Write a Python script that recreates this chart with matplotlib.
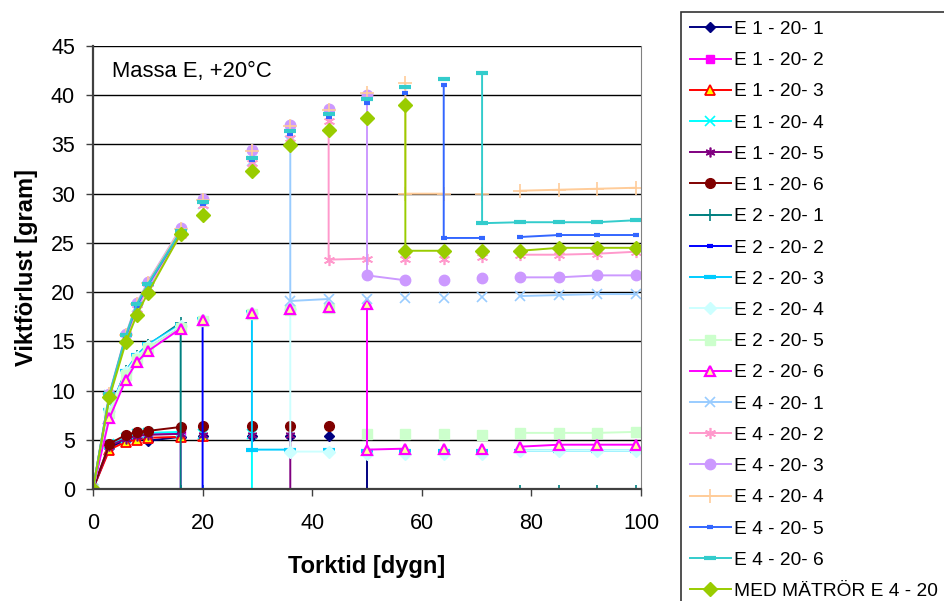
import numpy as np
import matplotlib
matplotlib.use("Agg")
import matplotlib.pyplot as plt

plt.rcParams['font.family'] = ['Liberation Sans', 'DejaVu Sans']

N = np.nan
LOW = -5  # sample removed, value far below the axis

# rows of the table; repeated days are the re-weighing rows
days = [0, 3, 6, 8, 10, 16, 16, 20, 20, 29, 29, 36, 36, 43, 43,
        50, 50, 57, 57, 64, 64, 71, 71, 78, 85, 92, 99]

e1_1 = [0, 4.2, 5.0, 5.2, 4.9, 5.3, N, 5.4, N, 5.4, N, 5.4, N, 5.4, N,
        5.6, LOW, N, N, N, N, N, N, N, N, N, N]
e1_2 = [0, 4.5, 5.3, 5.5, 5.6, 5.7, LOW, N, N, N, N, N, N, N, N,
        N, N, N, N, N, N, N, N, N, N, N, N]
e1_3 = [0, 4.0, 4.8, 5.0, 5.2, 5.3, N, 5.4, N, N, N, N, N, N, N,
        N, N, N, N, N, N, N, N, N, N, N, N]
e1_4 = [0, 4.6, 5.2, 5.6, 5.7, 5.8, N, 5.6, N, 5.6, LOW, N, N, N, N,
        N, N, N, N, N, N, N, N, N, N, N, N]
e1_5 = [0, 4.4, 5.1, 5.4, 5.5, 5.6, N, 5.5, N, 5.5, N, 5.5, LOW, N, N,
        N, N, N, N, N, N, N, N, N, N, N, N]
e1_6 = [0, 4.6, 5.5, 5.8, 5.9, 6.3, N, 6.4, N, 6.4, N, 6.4, N, 6.4, N,
        N, N, N, N, N, N, N, N, N, N, N, N]

e2_1 = [0, 8.0, 12.0, 13.5, 14.6, 16.9, -0.2, -0.2, N, N, N, N, N, N, N,
        N, N, N, N, N, N, N, N, -0.2, -0.2, -0.2, -0.2]
e2_2 = [0, 7.8, 11.8, 13.3, 14.4, 16.5, N, 16.8, LOW, N, N, N, N, N, N,
        N, N, N, N, N, N, N, N, N, N, N, N]
e2_3 = [0, 8.0, 12.0, 13.6, 14.7, 16.7, N, 17.3, N, 18.0, 4.0, 4.0, N, 4.0, N,
        3.9, N, 3.9, N, 3.9, N, 3.9, N, 3.9, 3.9, 3.9, 3.9]
e2_4 = [0, 7.9, 11.9, 13.4, 14.5, 16.6, N, 17.2, N, 17.9, N, 18.3, 3.8, 3.8, N,
        3.6, N, 3.6, N, 3.6, N, 3.6, N, 3.9, 3.9, 3.9, 3.9]
e2_5 = [0, 7.7, 11.6, 13.2, 14.3, 16.4, N, 17.1, N, 17.8, N, 18.2, N, 18.4, N,
        5.6, N, 5.6, N, 5.6, N, 5.5, N, 5.7, 5.7, 5.7, 5.8]
e2_6 = [0, 7.2, 11.1, 12.9, 14.0, 16.3, N, 17.2, N, 17.9, N, 18.3, N, 18.5, N,
        18.8, 4.0, 4.1, N, 4.1, N, 4.1, N, 4.3, 4.5, 4.5, 4.5]

e4_1 = [0, 9.5, 15.4, 18.5, 20.6, 26.0, N, 28.9, N, 33.3, N, 35.3, 19.1, 19.3, N,
        19.3, N, 19.4, N, 19.4, N, 19.5, N, 19.6, 19.7, 19.8, 19.8]
e4_2 = [0, 9.4, 15.3, 18.3, 20.4, 25.8, N, 28.8, N, 33.1, N, 35.7, N, 37.4, 23.3,
        23.4, N, 23.4, N, 23.4, N, 23.6, N, 23.8, 23.8, 23.9, 24.1]
e4_3 = [0, 9.7, 15.7, 18.9, 21.0, 26.5, N, 29.5, N, 34.4, N, 37.0, N, 38.6, N,
        40.0, 21.7, 21.2, N, 21.2, N, 21.4, N, 21.5, 21.5, 21.7, 21.7]
e4_4 = [0, 9.6, 15.6, 18.8, 20.9, 26.4, N, 29.4, N, 34.3, N, 36.9, N, 38.5, N,
        40.2, N, 41.2, 30.0, 30.0, N, 30.0, N, 30.3, 30.4, 30.5, 30.6]
e4_5 = [0, 9.5, 15.5, 18.6, 20.7, 26.1, N, 29.0, N, 33.4, N, 36.1, N, 37.8, N,
        39.2, N, 40.2, N, 41.0, 25.5, 25.5, N, 25.6, 25.8, 25.8, 25.8]
e4_6 = [0, 9.6, 15.6, 18.8, 20.8, 26.2, N, 29.2, N, 33.6, N, 36.4, N, 38.1, N,
        39.6, N, 40.8, N, 41.6, N, 42.3, 27.0, 27.1, 27.1, 27.1, 27.3]
med = [0, 9.3, 14.9, 17.7, 19.9, 25.9, N, 27.8, N, 32.3, N, 34.9, N, 36.5, N,
       37.7, N, 39.0, 24.2, 24.2, N, 24.2, N, 24.2, 24.5, 24.5, 24.5]

asterisk = (6, 2, 0)
# label, values, line colour, marker, face, edge, size, edge width
series = [
    ("E 1 - 20- 1", e1_1, "#000080", "D", "#000080", "#000080", 5.5, 1),
    ("E 1 - 20- 2", e1_2, "#FF00FF", "s", "#FF00FF", "#FF00FF", 5.5, 1),
    ("E 1 - 20- 3", e1_3, "#FF0000", "^", "#FFFF00", "#FF0000", 7, 1.3),
    ("E 1 - 20- 4", e1_4, "#00FFFF", "x", "#00FFFF", "#00FFFF", 6.5, 1.2),
    ("E 1 - 20- 5", e1_5, "#800080", asterisk, "#800080", "#800080", 7, 1.2),
    ("E 1 - 20- 6", e1_6, "#800000", "o", "#800000", "#800000", 7, 1),
    ("E 2 - 20- 1", e2_1, "#008080", "+", "#008080", "#008080", 9, 1.2),
    ("E 2 - 20- 2", e2_2, "#0000FF", "_", "#0000FF", "#0000FF", 5, 3),
    ("E 2 - 20- 3", e2_3, "#00CCFF", "_", "#00CCFF", "#00CCFF", 8, 3),
    ("E 2 - 20- 4", e2_4, "#CCFFFF", "D", "#CCFFFF", "#CCFFFF", 6, 1),
    ("E 2 - 20- 5", e2_5, "#CCFFCC", "s", "#CCFFCC", "#CCFFCC", 7, 1),
    ("E 2 - 20- 6", e2_6, "#FF00FF", "^", "#FFFF99", "#FF00FF", 7.5, 1.6),
    ("E 4 - 20- 1", e4_1, "#99CCFF", "x", "#99CCFF", "#99CCFF", 7, 1.2),
    ("E 4 - 20- 2", e4_2, "#FF99CC", asterisk, "#FF99CC", "#FF99CC", 8, 1.2),
    ("E 4 - 20- 3", e4_3, "#CC99FF", "o", "#CC99FF", "#CC99FF", 7.5, 1),
    ("E 4 - 20- 4", e4_4, "#FFCC99", "+", "#FFCC99", "#FFCC99", 10, 1.2),
    ("E 4 - 20- 5", e4_5, "#3366FF", "_", "#3366FF", "#3366FF", 5, 3),
    ("E 4 - 20- 6", e4_6, "#33CCCC", "_", "#33CCCC", "#33CCCC", 8, 3),
    ("MED MÄTRÖR E 4 - 20", med, "#99CC00", "D", "#99CC00", "#99CC00", 7, 1),
]

fig = plt.figure(figsize=(9.44, 6.01), dpi=100)
ax = fig.add_axes([93 / 944, 1 - 489 / 601, 548 / 944, 443 / 601])

for label, vals, col, mk, fc, ec, ms, mew in series:
    ax.plot(days, vals, color=col, linewidth=1.4, marker=mk, markersize=ms,
            markerfacecolor=fc, markeredgecolor=ec, markeredgewidth=mew,
            label=label)

ax.set_xlim(0, 100)
ax.set_ylim(0, 45)
ax.set_xticks(range(0, 101, 20))
ax.set_yticks(range(0, 46, 5))
ax.yaxis.grid(True, color="black", linewidth=1)
ax.set_axisbelow(True)
ax.tick_params(direction="out", length=5, width=1, labelsize=15.5, colors="#404040",
               labelcolor="black")
ax.tick_params(axis="x", pad=12)
ax.tick_params(axis="y", pad=8)
for side in ["left", "bottom"]:
    ax.spines[side].set_color("#404040")
    ax.spines[side].set_linewidth(1.6)
ax.spines["right"].set_color("#808080")
ax.spines["top"].set_visible(False)

ax.set_xlabel("Torktid [dygn]", fontsize=17, fontweight="bold")
ax.set_ylabel("Viktförlust [gram]", fontsize=17, fontweight="bold")
ax.xaxis.set_label_coords(0.5, -(555 - 489) / 443)
ax.yaxis.set_label_coords(-(93 - 38) / 548, 0.5)
ax.text(3.5, 42.4, "Massa E, +20°C", fontsize=15.8, va="center", ha="left")

leg = fig.legend(loc="upper left", bbox_to_anchor=(681 / 944, 0, 0.3, 1 - 12 / 601),
                 mode="expand", borderaxespad=0, fontsize=13.8, frameon=True,
                 fancybox=False, edgecolor="black", numpoints=1, handlelength=2.15,
                 handletextpad=0.15, labelspacing=0.72, borderpad=0.45)
leg.get_frame().set_linewidth(1.2)

fig.savefig("out.png", dpi=100)
